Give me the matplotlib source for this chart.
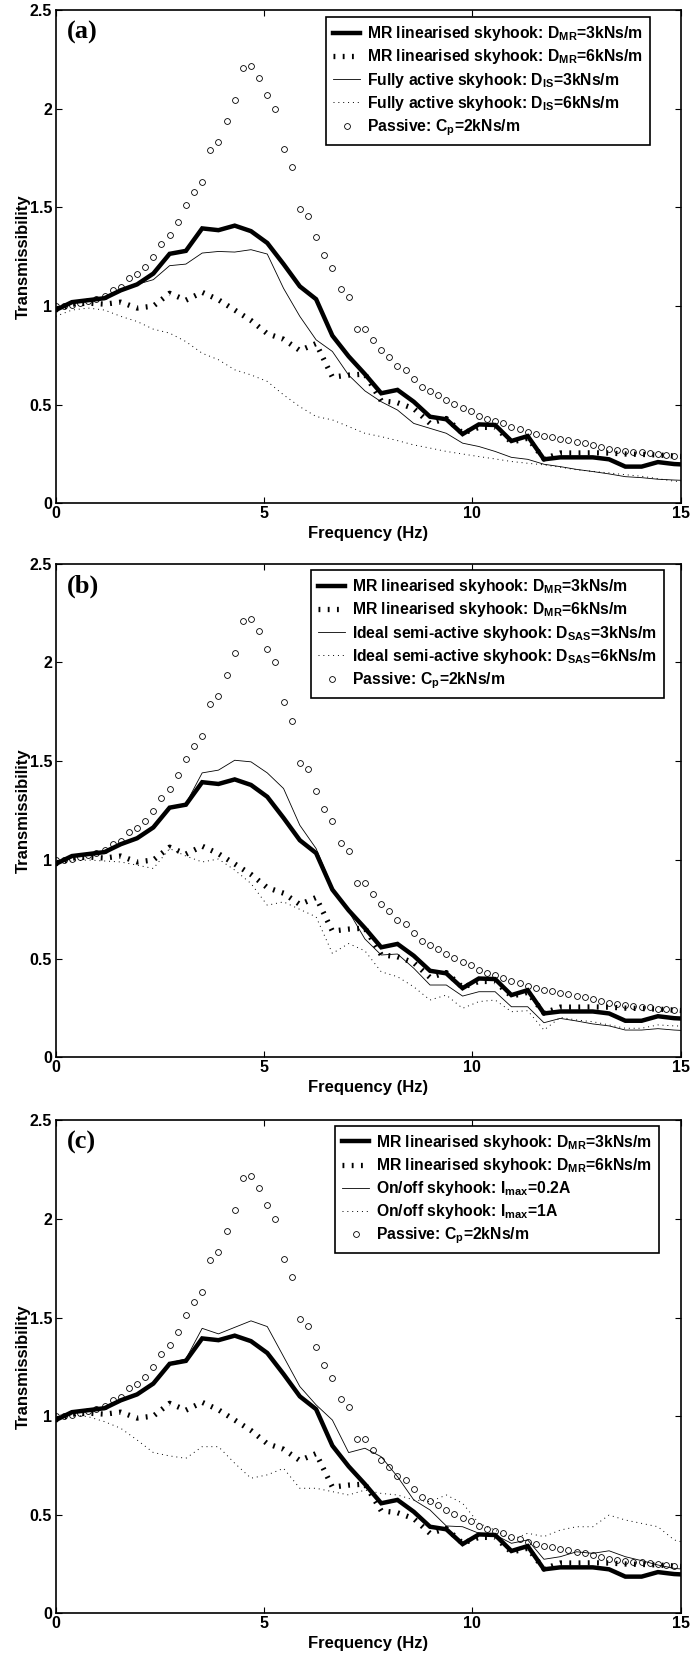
import numpy as np
import matplotlib
matplotlib.use("Agg")
import matplotlib.pyplot as plt

plt.rcParams["font.family"] = ["Liberation Sans", "DejaVu Sans"]
plt.rcParams["font.weight"] = "bold"
plt.rcParams["mathtext.fontset"] = "custom"
plt.rcParams["mathtext.rm"] = "Liberation Sans:bold"
plt.rcParams["mathtext.bf"] = "Liberation Sans:bold"
plt.rcParams["mathtext.it"] = "Liberation Sans:bold"

# frequency grids (Hz): spectral bins for the passive points, every other bin for the lines
DF = 0.1953125
freq_fine = np.arange(77) * DF
freq_coarse = np.arange(40) * 2 * DF

# passive damper, Cp = 2 kNs/m (shown in every panel)
passive = [1.0, 1.0, 1.005, 1.015, 1.025, 1.035, 1.052, 1.083, 1.096, 1.144,
           1.164, 1.198, 1.249, 1.315, 1.360, 1.428, 1.511, 1.577, 1.628, 1.790,
           1.832, 1.937, 2.047, 2.208, 2.219, 2.159, 2.068, 2.0, 1.799, 1.704,
           1.491, 1.459, 1.349, 1.259, 1.195, 1.088, 1.046, 0.885, 0.885, 0.826,
           0.777, 0.743, 0.696, 0.676, 0.630, 0.591, 0.569, 0.551, 0.526, 0.502,
           0.485, 0.468, 0.444, 0.428, 0.417, 0.405, 0.389, 0.375, 0.362, 0.351,
           0.341, 0.336, 0.328, 0.321, 0.312, 0.307, 0.294, 0.284, 0.277, 0.272,
           0.267, 0.262, 0.258, 0.254, 0.248, 0.245, 0.241]

# MR linearised skyhook
mr_3 = [0.98, 1.02, 1.03, 1.04, 1.08, 1.11, 1.165, 1.265, 1.28, 1.394,
        1.385, 1.408, 1.38, 1.32, 1.213, 1.10, 1.035, 0.85, 0.745, 0.655,
        0.558, 0.575, 0.515, 0.439, 0.426, 0.351, 0.40, 0.397, 0.316, 0.341,
        0.223, 0.233, 0.233, 0.233, 0.223, 0.186, 0.186, 0.209, 0.199, 0.195]
mr_6 = [0.98, 1.01, 1.015, 1.01, 1.02, 0.99, 1.0, 1.065, 1.03, 1.07,
        1.032, 0.98, 0.927, 0.86, 0.832, 0.775, 0.81, 0.64, 0.65, 0.655,
        0.52, 0.51, 0.48, 0.405, 0.43, 0.355, 0.385, 0.385, 0.31, 0.33,
        0.225, 0.255, 0.255, 0.256, 0.255, 0.25, 0.248, 0.245, 0.24, 0.235]

# (a) fully active skyhook
active_3 = [0.98, 1.02, 1.03, 1.04, 1.08, 1.11, 1.134, 1.205, 1.213, 1.269,
            1.277, 1.274, 1.286, 1.264, 1.09, 0.948, 0.829, 0.77, 0.65, 0.57,
            0.515, 0.473, 0.405, 0.38, 0.355, 0.305, 0.288, 0.263, 0.233, 0.223,
            0.198, 0.186, 0.172, 0.161, 0.149, 0.135, 0.13, 0.122, 0.118, 0.115]
active_6 = [0.948, 0.98, 0.99, 0.98, 0.948, 0.922, 0.883, 0.863, 0.82, 0.761,
            0.728, 0.677, 0.651, 0.618, 0.55, 0.49, 0.44, 0.423, 0.389, 0.355,
            0.338, 0.318, 0.296, 0.28, 0.263, 0.25, 0.237, 0.225, 0.212, 0.203,
            0.195, 0.183, 0.17, 0.162, 0.154, 0.145, 0.137, 0.125, 0.112, 0.108]

# (b) ideal semi-active skyhook
semi_3 = [0.98, 1.02, 1.03, 1.04, 1.08, 1.11, 1.165, 1.265, 1.285, 1.441,
          1.455, 1.505, 1.497, 1.441, 1.362, 1.176, 1.058, 0.86, 0.74, 0.60,
          0.519, 0.524, 0.452, 0.367, 0.367, 0.311, 0.333, 0.333, 0.257, 0.257,
          0.176, 0.198, 0.185, 0.17, 0.16, 0.139, 0.139, 0.146, 0.139, 0.135]
semi_6 = [0.99, 0.995, 1.0, 0.995, 0.99, 0.974, 0.957, 1.058, 1.02, 0.99,
          1.005, 0.949, 0.881, 0.771, 0.788, 0.75, 0.712, 0.527, 0.577, 0.54,
          0.434, 0.409, 0.358, 0.291, 0.316, 0.249, 0.283, 0.291, 0.232, 0.237,
          0.139, 0.203, 0.19, 0.181, 0.165, 0.148, 0.148, 0.165, 0.16, 0.158]

# (c) on/off skyhook
onoff_02 = [0.98, 1.02, 1.03, 1.04, 1.08, 1.11, 1.17, 1.27, 1.29, 1.445,
            1.417, 1.45, 1.483, 1.454, 1.302, 1.15, 1.057, 0.98, 0.815, 0.837,
            0.794, 0.693, 0.575, 0.524, 0.443, 0.439, 0.406, 0.397, 0.355, 0.372,
            0.274, 0.287, 0.312, 0.304, 0.317, 0.287, 0.267, 0.245, 0.228, 0.22]
onoff_1 = [1.006, 1.006, 0.997, 0.972, 0.938, 0.879, 0.815, 0.798, 0.786, 0.845,
           0.845, 0.761, 0.685, 0.702, 0.735, 0.634, 0.634, 0.617, 0.6, 0.625,
           0.608, 0.6, 0.575, 0.566, 0.6, 0.558, 0.456, 0.422, 0.372, 0.406,
           0.389, 0.422, 0.439, 0.439, 0.498, 0.473, 0.456, 0.439, 0.372, 0.35]

MR_LABELS = [r"MR linearised skyhook: D$_{\rm MR}$=3kNs/m",
             r"MR linearised skyhook: D$_{\rm MR}$=6kNs/m"]
PASSIVE_LABEL = r"Passive: C$_{\rm p}$=2kNs/m"

PANELS = [
    ("(a)", active_3, active_6,
     [r"Fully active skyhook: D$_{\rm IS}$=3kNs/m",
      r"Fully active skyhook: D$_{\rm IS}$=6kNs/m"],
     [0.0807, 0.69626, 0.9058, 0.29753], (0.951, 0.986)),
    ("(b)", semi_3, semi_6,
     [r"Ideal semi-active skyhook: D$_{\rm SAS}$=3kNs/m",
      r"Ideal semi-active skyhook: D$_{\rm SAS}$=6kNs/m"],
     [0.0807, 0.36180, 0.9058, 0.29798], (0.9735, 0.987)),
    ("(c)", onoff_02, onoff_1,
     [r"On/off skyhook: I$_{\rm max}$=0.2A",
      r"On/off skyhook: I$_{\rm max}$=1A"],
     [0.0807, 0.02637, 0.9058, 0.29753], (0.965, 0.989)),
]


def draw_panel(ax, tag, sa3, sa6, sa_labels, anchor):
    ax.plot(freq_coarse, mr_3, color="black", lw=3.2, solid_joinstyle="miter",
            label=MR_LABELS[0])
    ax.plot(freq_coarse, mr_6, color="black", lw=3.8, dash_capstyle="butt",
            linestyle=(0, (0.35, 1.4)), label=MR_LABELS[1])
    ax.plot(freq_coarse, sa3, color="black", lw=0.6, label=sa_labels[0])
    ax.plot(freq_coarse, sa6, color="black", lw=0.7, linestyle=(0, (1, 4)),
            label=sa_labels[1])
    ax.plot(freq_fine, passive, linestyle="none", marker="o", markersize=4.2,
            markerfacecolor="none", markeredgecolor="black", markeredgewidth=0.6,
            label=PASSIVE_LABEL)

    ax.set_xlim(0, 15)
    ax.set_ylim(0, 2.5)
    ax.set_xticks([0, 5, 10, 15])
    ax.set_yticks([0, 0.5, 1, 1.5, 2, 2.5])
    ax.set_yticklabels(["0", "0.5", "1", "1.5", "2", "2.5"])
    ax.tick_params(direction="in", top=True, right=True, length=4.5, width=0.8,
                   labelsize=11.5)
    ax.tick_params(axis="x", pad=2)
    ax.tick_params(axis="y", pad=2.5)
    for lab in ax.get_xticklabels() + ax.get_yticklabels():
        lab.set_fontweight("bold")
    for sp in ax.spines.values():
        sp.set_linewidth(1.2)

    ax.set_xlabel("Frequency (Hz)", fontsize=12, fontweight="bold")
    ax.set_ylabel("Transmissibility", fontsize=12, fontweight="bold")
    ax.xaxis.set_label_coords(0.5, -0.046)
    ax.yaxis.set_label_coords(-0.040, 0.5)

    ax.text(0.0176, 0.978, tag, transform=ax.transAxes, ha="left", va="top",
            fontsize=19, fontweight="bold", family="Liberation Serif")

    leg = ax.legend(loc="upper right", bbox_to_anchor=anchor, borderaxespad=0,
                    fontsize=11.3, frameon=True, fancybox=False, framealpha=1,
                    edgecolor="black", handlelength=1.7, handletextpad=0.45,
                    labelspacing=0.27, borderpad=0.45, numpoints=1)
    leg.get_frame().set_linewidth(1.2)
    for t in leg.get_texts():
        t.set_fontweight("bold")


fig = plt.figure(figsize=(6.9, 16.57), dpi=100)
for tag, sa3, sa6, sa_labels, rect, anchor in PANELS:
    ax = fig.add_axes(rect)
    draw_panel(ax, tag, sa3, sa6, sa_labels, anchor)

fig.savefig("out.png", dpi=100)
